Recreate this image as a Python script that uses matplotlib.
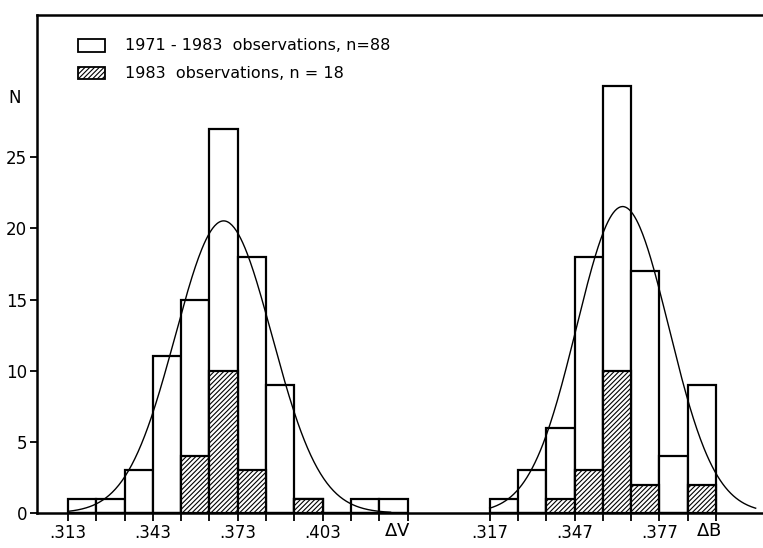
import numpy as np
import matplotlib
matplotlib.use("Agg")
import matplotlib.pyplot as plt
from matplotlib.patches import Rectangle

plt.rcParams['hatch.linewidth'] = 0.8

# bin width and left edges of the bins
width = 0.010
v_edges = [0.313, 0.323, 0.333, 0.343, 0.353, 0.363, 0.373, 0.383, 0.393, 0.403, 0.413, 0.423]
v_all = [1, 1, 3, 11, 15, 27, 18, 9, 1, 0, 1, 1]       # 1971-1983, n=88
v_1983 = [0, 0, 0, 0, 4, 10, 3, 0, 1, 0, 0, 0]        # 1983, n=18

b_edges = [0.317, 0.327, 0.337, 0.347, 0.357, 0.367, 0.377, 0.387]
b_all = [1, 3, 6, 18, 30, 17, 4, 9]
b_1983 = [0, 0, 1, 3, 10, 2, 0, 2]

# fitted normal curves (mean, sigma, range drawn)
v_mean, v_sd, v_range = 0.368, 0.0171, (0.313, 0.427)
b_mean, b_sd, b_range = 0.364, 0.0163, (0.317, 0.411)
n_all = 88

v_ticklabels = {0.313: '.313', 0.343: '.343', 0.373: '.373', 0.403: '.403'}
b_ticklabels = {0.317: '.317', 0.347: '.347', 0.377: '.377'}

shift = 0.145   # the dB panel is drawn to the right of the dV panel

fig = plt.figure(figsize=(7.63, 5.48), dpi=100)
ax = fig.add_axes([37/763, 35/548, 1 - 37/763, (513-15)/548])

def panel(edges, allc, sub, mean, sd, rng, off):
    x = np.array(edges) + off
    ax.bar(x, allc, width=width, align='edge', facecolor='white',
           edgecolor='black', linewidth=1.6, zorder=2)
    ax.bar(x, sub, width=width, align='edge', facecolor='white',
           edgecolor='black', hatch='///////', linewidth=1.6, zorder=3)
    xs = np.linspace(rng[0], rng[1], 300)
    ys = n_all * width / (sd * np.sqrt(2 * np.pi)) * np.exp(-0.5 * ((xs - mean) / sd) ** 2)
    ax.plot(xs + off, ys, color='black', linewidth=1.0, zorder=4)

panel(v_edges, v_all, v_1983, v_mean, v_sd, v_range, 0)
panel(b_edges, b_all, b_1983, b_mean, b_sd, b_range, shift)

ticks = list(v_edges) + [v_edges[-1] + width] + [e + shift for e in b_edges] + [b_edges[-1] + width + shift]
labels = []
for t in ticks:
    lab = ''
    for k, s in v_ticklabels.items():
        if abs(t - k) < 1e-6:
            lab = s
    for k, s in b_ticklabels.items():
        if abs(t - shift - k) < 1e-6:
            lab = s
    labels.append(lab)
ax.set_xticks(ticks)
ax.set_xticklabels(labels, fontsize=12)
ax.set_xlim(0.30205, 0.5586)
ax.set_ylim(0, 35)
ax.set_yticks([0, 5, 10, 15, 20, 25])
ax.tick_params(axis='x', direction='out', length=6, width=1.3, pad=2)
ax.tick_params(axis='y', direction='out', length=5, width=1.3, labelsize=12, pad=2)

ax.text(0.4295, -1.3, r'$\Delta$V', fontsize=13, ha='center', va='center')
ax.text(0.3945 + shift, -1.3, r'$\Delta$B', fontsize=13, ha='center', va='center')
ax.text(-0.022, 29.2, 'N', transform=ax.get_yaxis_transform(), fontsize=12, ha='right', va='center')

for side in ['left', 'top', 'bottom']:
    ax.spines[side].set_linewidth(1.8)
ax.spines['right'].set_visible(False)

# legend drawn by hand, as in the original
ax.add_patch(Rectangle((0.3165, 32.43), 0.0095, 0.85, facecolor='white', edgecolor='black', linewidth=1.3, clip_on=False))
ax.add_patch(Rectangle((0.3165, 30.48), 0.0095, 0.85, facecolor='white', edgecolor='black', hatch='///////', linewidth=1.3, clip_on=False))
ax.text(0.333, 32.85, '1971 - 1983  observations, n=88', fontsize=11.5, va='center')
ax.text(0.333, 30.9, '1983  observations, n = 18', fontsize=11.5, va='center')

fig.savefig('out.png', dpi=100)
